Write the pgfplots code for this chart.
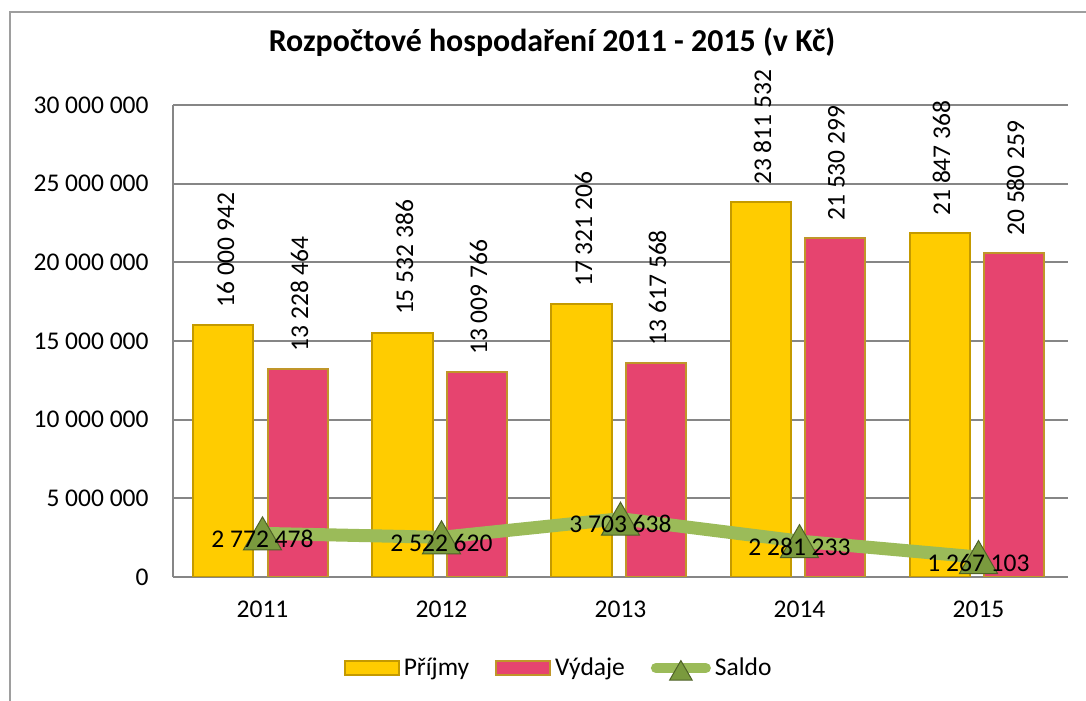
\documentclass[border=0pt]{standalone}
\usepackage{pgfplots}
\pgfplotsset{compat=1.18}
\usepackage{pgfplotstable}
\usepackage{fontspec}
\setmainfont{Carlito}

\definecolor{prij}{HTML}{FFCC00}
\definecolor{prijedge}{HTML}{C49A00}
\definecolor{vyd}{HTML}{E6446F}
\definecolor{vydedge}{HTML}{C0962A}
\definecolor{saldo}{HTML}{9BBB59}
\definecolor{saldomark}{HTML}{7A9A3E}
\definecolor{saldoedge}{HTML}{4F6228}
\definecolor{gridc}{HTML}{868686}

% rok, hodnota, popisek
\pgfplotstableread[col sep=comma, row sep=\\]{
x,y,lab\\
0,16000942,16 000 942\\
1,15532386,15 532 386\\
2,17321206,17 321 206\\
3,23811532,23 811 532\\
4,21847368,21 847 368\\
}\prijmy

\pgfplotstableread[col sep=comma, row sep=\\]{
x,y,lab\\
0,13228464,13 228 464\\
1,13009766,13 009 766\\
2,13617568,13 617 568\\
3,21530299,21 530 299\\
4,20580259,20 580 259\\
}\vydaje

\pgfplotstableread[col sep=comma, row sep=\\]{
x,y,lab\\
0,2772478,2 772 478\\
1,2522620,2 522 620\\
2,3703638,3 703 638\\
3,2281233,2 281 233\\
4,1267103,1 267 103\\
}\saldotab

\newcommand\lbl{\fontsize{12.8}{15}\selectfont}

\pgfplotsset{
  barlegend/.style={legend image code/.code={\draw[##1] (0bp,-3.5bp) rectangle (27bp,3.5bp);}},
  linelegend/.style={legend image code/.code={
      \draw[##1, line width=5bp, line cap=round, mark size=6.5bp, mark repeat=2, mark phase=2]
        plot coordinates {(2.5bp,0bp) (15bp,0bp) (27.5bp,0bp)};}},
}

\begin{document}
\begin{tikzpicture}
\path[use as bounding box] (0,0) rectangle (543bp,350.5bp);
\draw[gridc!80, line width=1bp] (5bp,-5bp) -- (5bp,344.5bp) -- (560bp,344.5bp);
\node[font=\fontsize{16}{19}\selectfont\bfseries] at (276bp,329.5bp)
  {Rozpočtové hospodaření 2011 - 2015 (v Kč)};

\begin{axis}[
    at={(86.5bp,62bp)}, anchor=south west,
    scale only axis, width=447.5bp, height=236bp,
    xmin=-0.5, xmax=4.5,
    ymin=0, ymax=30000000,
    xtick={0,1,2,3,4},
    xticklabels={2011,2012,2013,2014,2015},
    ytick={0,5000000,10000000,15000000,20000000,25000000,30000000},
    scaled y ticks=false,
    ticklabel style={font=\lbl},
    yticklabel style={xshift=-8.7bp,
      /pgf/number format/fixed, /pgf/number format/precision=0,
      /pgf/number format/1000 sep={\ }, /pgf/number format/assume math mode=true},
    xticklabel style={yshift=-8.7bp},
    major tick length=0pt,
    tick style={draw=none},
    axis lines*=left,
    axis line style={-, gridc, line width=1bp},
    ymajorgrids=true,
    grid style={gridc, line width=1bp},
    legend style={at={(0.432,-0.193)}, anchor=center, draw=none, fill=none,
      legend columns=3, font=\lbl,
      /tikz/every even column/.append style={column sep=11bp}},
]

\addplot[ybar, bar width=30bp, bar shift=-19.5bp, fill=prij, draw=prijedge, line width=1bp,
    nodes near coords, point meta=explicit symbolic,
    nodes near coords style={xshift=-18.5bp, yshift=5bp, rotate=90, anchor=west, font=\lbl, text=black},
    barlegend]
    table[x=x, y=y, meta=lab] {\prijmy};
\addlegendentry{Příjmy}

\addplot[ybar, bar width=30bp, bar shift=17.5bp, fill=vyd, draw=vydedge, line width=1bp,
    nodes near coords, point meta=explicit symbolic,
    nodes near coords style={xshift=18.5bp, yshift=5bp, rotate=90, anchor=west, font=\lbl, text=black},
    barlegend]
    table[x=x, y=y, meta=lab] {\vydaje};
\addlegendentry{Výdaje}

\addplot[saldo, line width=6.5bp, mark=triangle*, mark size=11bp,
    mark options={fill=saldomark, draw=saldoedge, line width=0.5bp, yshift=-2.75bp},
    nodes near coords, point meta=explicit symbolic,
    nodes near coords style={anchor=center, font=\lbl, text=black},
    linelegend]
    table[x=x, y=y, meta=lab] {\saldotab};
\addlegendentry{Saldo}

\end{axis}
\end{tikzpicture}
\end{document}
